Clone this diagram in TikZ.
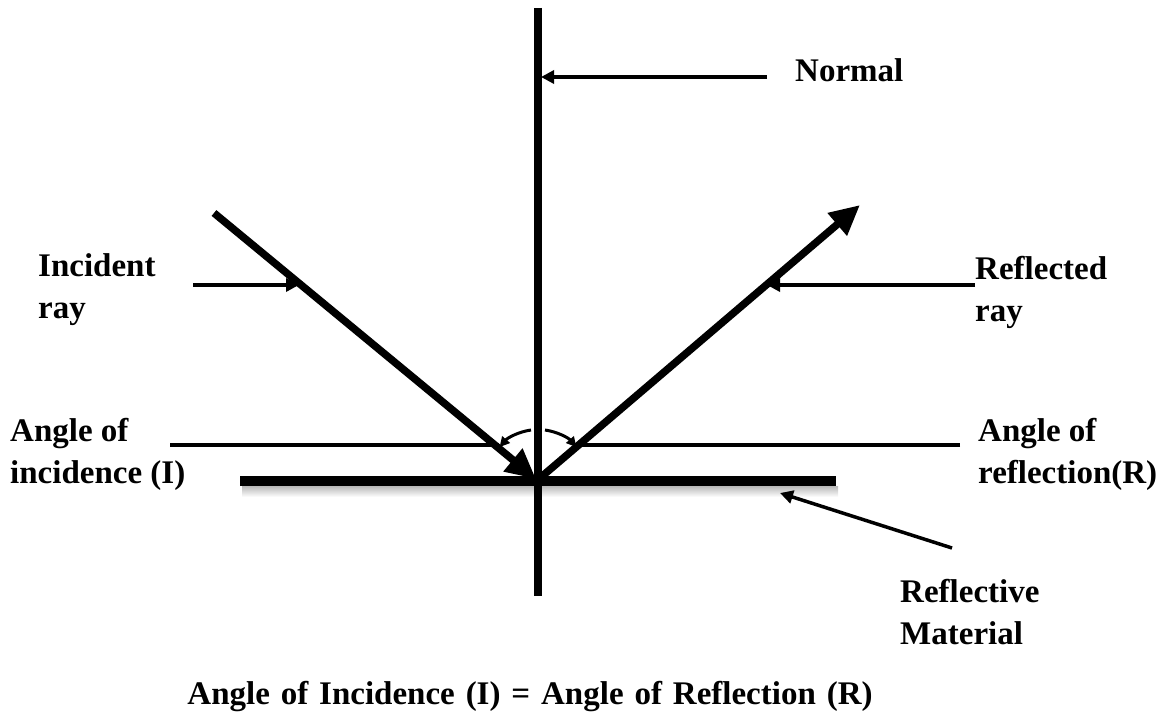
\documentclass[tikz,border=0pt]{standalone}
\usepackage{fontspec}
\setmainfont{Liberation Serif}
\usepackage{xcolor}
\usepackage{tikz}
\usetikzlibrary{arrows.meta, positioning}

\begin{document}
\begin{tikzpicture}[
    x=1pt, y=-1pt,
    font=\bfseries\fontsize{33}{42}\selectfont,
    lbl/.style={anchor=base west, align=left, inner sep=0pt},
    ray/.style={line width=7.5pt, -{Triangle[length=30pt, width=28pt]}},
    pointer/.style={line width=3.5pt, -{Triangle[length=13pt, width=13pt]}},
    guide/.style={line width=3.5pt},
    angle_arc/.style={line width=3pt, -{Triangle[length=10pt, width=10pt]}}
]
\useasboundingbox (0,0) rectangle (1167,714);

% GEOMETRY
\coordinate (O) at (538,481);
\coordinate (normal_top) at (538,8);
\coordinate (normal_bot) at (538,596);
\coordinate (mirror_l) at (240,481);
\coordinate (mirror_r) at (836,481);
\coordinate (inc_start) at (214,213);
\coordinate (inc_end) at (536,479);
\coordinate (refl_start) at (540,478);
\coordinate (refl_end) at (860,205);

% MIRROR & NORMAL
\shade[top color=gray!55, bottom color=white] (242,486) rectangle (838,497);
\draw[line width=10pt] (mirror_l) -- (mirror_r);
\draw[line width=8pt] (normal_top) -- (normal_bot);

% RAYS
\draw[ray] (inc_start) -- (inc_end);
\draw[ray] (refl_start) -- (refl_end);

% ANGLE ARCS
\draw[angle_arc] (531,430) arc[start angle=-98, end angle=-139, radius=51];
\draw[angle_arc] (545,430) arc[start angle=-82, end angle=-41, radius=51];

% LABELS
\node[lbl] (normal_lbl) at (795,82) {Normal};
\node[lbl] (incident_lbl) at (38,318) {Incident\\ray};
\node[lbl] (reflected_lbl) at (975,321) {Reflected\\ray};
\node[lbl] (aoi_lbl) at (10,483) {Angle of\\incidence (I)};
\node[lbl] (aor_lbl) at (978,483) {Angle of\\reflection(R)};
\node[lbl] (material_lbl) at (900,644) {Reflective\\Material};
\node[anchor=base, inner sep=0pt] (law_lbl) at (530,704)
    {\spaceskip=0.33em Angle of Incidence (I) = Angle of Reflection (R)};

% POINTERS
\coordinate (normal_tail) at (767,77);
\coordinate (normal_tip) at (541,77);
\coordinate (inc_tail) at (193,285);
\coordinate (inc_tip) at (299,285);
\coordinate (refl_tail) at (975,285);
\coordinate (refl_tip) at (767,285);
\coordinate (mat_tail) at (952,548);
\coordinate (mat_tip) at (780,493);
\coordinate (aoi_tail) at (170,445);
\coordinate (aoi_tip) at (499,445);
\coordinate (aor_tail) at (960,445);
\coordinate (aor_tip) at (577,445);
\draw[pointer] (normal_tail) -- (normal_tip);
\draw[pointer] (inc_tail) -- (inc_tip);
\draw[pointer] (refl_tail) -- (refl_tip);
\draw[pointer] (mat_tail) -- (mat_tip);
\draw[guide] (aoi_tail) -- (aoi_tip);
\draw[guide] (aor_tail) -- (aor_tip);

\end{tikzpicture}
\end{document}
